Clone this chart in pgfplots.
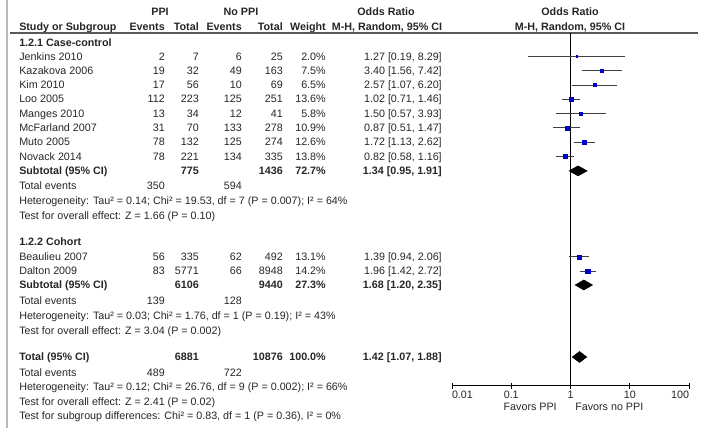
\documentclass[border=0pt]{standalone}
\usepackage{fontspec}
\setmainfont{Liberation Sans}
\usepackage{pgfplots}
\pgfplotsset{compat=1.18}
\usepackage{pgfplotstable}
\definecolor{sqblue}{HTML}{0000CC}
\newcommand\fs{\fontsize{8.05}{10}\selectfont}

% y = 434 - pixel row ; or, lo, hi ; weight (%)
\pgfplotstableread{
y or lo hi w
377.5 1.27 0.19 8.29 2.0
363.2 3.40 1.56 7.42 7.5
348.9 2.57 1.07 6.20 6.5
334.6 1.02 0.71 1.46 13.6
320.3 1.50 0.57 3.93 5.8
306.0 0.87 0.51 1.47 10.9
291.7 1.72 1.13 2.62 12.6
277.4 0.82 0.58 1.16 13.8
177.0 1.39 0.94 2.06 13.1
162.7 1.96 1.42 2.72 14.2
}\studies

\newcommand\trow[8]{%
\node[anchor=mid west] at (19,#1) {#2};
\node[anchor=mid east] at (165,#1) {#3};
\node[anchor=mid east] at (199,#1) {#4};
\node[anchor=mid east] at (242,#1) {#5};
\node[anchor=mid east] at (283,#1) {#6};
\node[anchor=mid east] at (326,#1) {#7};
\node[anchor=mid east] at (442,#1) {#8};}

\begin{document}
\begin{tikzpicture}[x=0.75pt,y=0.75pt]
\useasboundingbox (0,0) rectangle (704,434);
\begin{axis}[at={(0pt,0pt)}, anchor=south west, width=528pt, height=325.5pt,
  scale only axis, xmin=0, xmax=704, ymin=0, ymax=434, hide axis, clip=false]
\addplot[gray!55, line width=1.5pt] coordinates {(7,434) (7,6)};
\addplot[black!65, line width=0.9pt] coordinates {(10,401) (698,401)};
\end{axis}
\begin{axis}[at={(339pt,36pt)}, anchor=south west, width=177.75pt, height=264.75pt,
  scale only axis, xmode=log, xmin=0.01, xmax=100, ymin=48, ymax=401,
  axis x line*=bottom, axis y line=none, axis line style={-, black, line width=0.75pt},
  xtick={0.01,0.1,1,10,100},
  xticklabels={\makebox[0pt][l]{0.01},0.1,1,10,\makebox[0pt][r]{100}},
  xminorticks=false, tick align=center, major tick length=4.5pt,
  tick style={black, line width=0.75pt},
  xticklabel style={font=\fs, text=black!85, yshift=2.2pt},
  clip=false]
\addplot[black, line width=0.75pt] coordinates {(1,48) (1,401)};
\addplot[black!75, line width=0.75pt, unbounded coords=jump] coordinates {
(0.19,377.5) (8.29,377.5) (1,nan)
(1.56,363.2) (7.42,363.2) (1,nan)
(1.07,348.9) (6.20,348.9) (1,nan)
(0.71,334.6) (1.46,334.6) (1,nan)
(0.57,320.3) (3.93,320.3) (1,nan)
(0.51,306.0) (1.47,306.0) (1,nan)
(1.13,291.7) (2.62,291.7) (1,nan)
(0.58,277.4) (1.16,277.4) (1,nan)
(0.94,177.0) (2.06,177.0) (1,nan)
(1.42,162.7) (2.72,162.7)
};
\addplot[scatter, only marks, mark=square*,
  scatter/use mapped color={draw=sqblue, fill=sqblue},
  visualization depends on={0.43*sqrt(\thisrow{w}) \as \msz},
  scatter/@pre marker code/.append style={/tikz/mark size=\msz}]
  table[x=or, y=y] {\studies};
\addplot[fill=black, draw=black] coordinates {(0.95,263.1) (1.34,268.1) (1.91,263.1) (1.34,258.1)} --cycle;
\addplot[fill=black, draw=black] coordinates {(1.20,149) (1.68,154) (2.35,149) (1.68,144)} --cycle;
\addplot[fill=black, draw=black] coordinates {(1.07,77) (1.42,82.5) (1.88,77) (1.42,71.5)} --cycle;
\end{axis}
\begin{scope}[every node/.style={font=\fs, inner sep=0pt, text=black!85}]
\node[anchor=mid, font=\fs\bfseries] at (160,422) {PPI};
\node[anchor=mid, font=\fs\bfseries] at (241,422) {No PPI};
\node[anchor=mid, font=\fs\bfseries] at (386,422) {Odds Ratio};
\node[anchor=mid, font=\fs\bfseries] at (570,422) {Odds Ratio};
\trow{407}{\bfseries Study or Subgroup}{\bfseries Events}{\bfseries Total}{\bfseries Events}{\bfseries Total}{\bfseries Weight}{}
\node[anchor=mid, font=\fs\bfseries] at (387,407) {M-H, Random, 95\% CI};
\node[anchor=mid, font=\fs\bfseries] at (570,407) {M-H, Random, 95\% CI};
\node[anchor=mid west, font=\fs\bfseries] at (19,391) {1.2.1 Case-control};
\trow{377.5}{Jenkins 2010}{2}{7}{6}{25}{2.0\%}{1.27 [0.19, 8.29]}
\trow{363.2}{Kazakova 2006}{19}{32}{49}{163}{7.5\%}{3.40 [1.56, 7.42]}
\trow{348.9}{Kim 2010}{17}{56}{10}{69}{6.5\%}{2.57 [1.07, 6.20]}
\trow{334.6}{Loo 2005}{112}{223}{125}{251}{13.6\%}{1.02 [0.71, 1.46]}
\trow{320.3}{Manges 2010}{13}{34}{12}{41}{5.8\%}{1.50 [0.57, 3.93]}
\trow{306}{McFarland 2007}{31}{70}{133}{278}{10.9\%}{0.87 [0.51, 1.47]}
\trow{291.7}{Muto 2005}{78}{132}{125}{274}{12.6\%}{1.72 [1.13, 2.62]}
\trow{277.4}{Novack 2014}{78}{221}{134}{335}{13.8\%}{0.82 [0.58, 1.16]}
\trow{263.1}{\bfseries Subtotal (95\% CI)}{}{\bfseries 775}{}{\bfseries 1436}{\bfseries 72.7\%}{\bfseries 1.34 [0.95, 1.91]}
\trow{248}{Total events}{350}{}{594}{}{}{}
\node[anchor=mid west] at (19,233) {Heterogeneity: Tau² = 0.14; Chi² = 19.53, df = 7 (P = 0.007); I² = 64\%};
\node[anchor=mid west] at (19,218) {Test for overall effect: Z = 1.66 (P = 0.10)};
\node[anchor=mid west, font=\fs\bfseries] at (19,192) {1.2.2 Cohort};
\trow{177}{Beaulieu 2007}{56}{335}{62}{492}{13.1\%}{1.39 [0.94, 2.06]}
\trow{162.7}{Dalton 2009}{83}{5771}{66}{8948}{14.2\%}{1.96 [1.42, 2.72]}
\trow{149}{\bfseries Subtotal (95\% CI)}{}{\bfseries 6106}{}{\bfseries 9440}{\bfseries 27.3\%}{\bfseries 1.68 [1.20, 2.35]}
\trow{133}{Total events}{139}{}{128}{}{}{}
\node[anchor=mid west] at (19,118) {Heterogeneity: Tau² = 0.03; Chi² = 1.76, df = 1 (P = 0.19); I² = 43\%};
\node[anchor=mid west] at (19,103) {Test for overall effect: Z = 3.04 (P = 0.002)};
\trow{77}{\bfseries Total (95\% CI)}{}{\bfseries 6881}{}{\bfseries 10876}{\bfseries 100.0\%}{\bfseries 1.42 [1.07, 1.88]}
\trow{61}{Total events}{489}{}{722}{}{}{}
\node[anchor=mid west] at (19,47) {Heterogeneity: Tau² = 0.12; Chi² = 26.76, df = 9 (P = 0.002); I² = 66\%};
\node[anchor=mid west] at (19,32) {Test for overall effect: Z = 2.41 (P = 0.02)};
\node[anchor=mid west] at (19,18) {Test for subgroup differences: Chi² = 0.83, df = 1 (P = 0.36), I² = 0\%};
\node[anchor=mid east] at (557,27) {Favors PPI};
\node[anchor=mid west] at (575,27) {Favors no PPI};
\end{scope}
\end{tikzpicture}
\end{document}
